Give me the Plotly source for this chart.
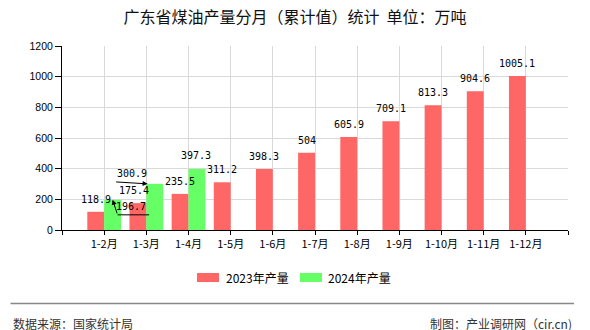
import plotly.graph_objects as go

# ---- data -------------------------------------------------------------
categories = ["1-2月", "1-3月", "1-4月", "1-5月", "1-6月", "1-7月",
              "1-8月", "1-9月", "1-10月", "1-11月", "1-12月"]
values_2023 = [118.9, 175.4, 235.5, 311.2, 398.3, 504, 605.9,
               709.1, 813.3, 904.6, 1005.1]
values_2024 = [196.7, 300.9, 397.3]
y_ticks = [0, 200, 400, 600, 800, 1000, 1200]

series_names = ["2023年产量", "2024年产量"]
colors = ["#FF6666", "#66FF66"]

# ---- page geometry (pixels) -------------------------------------------
W, H = 590, 330
L, R, T, B = 62, 22, 46, 100
PW, PH = W - L - R, H - T - B


def px_x(px):
    """page pixel x -> paper coordinate"""
    return (px - L) / PW


def px_y(py):
    """page pixel y -> paper coordinate"""
    return (H - B - py) / PH


def fmt(v):
    return f"{v:g}"


xs = list(range(len(categories)))
BW = 0.4

fig = go.Figure()
fig.add_trace(go.Bar(x=xs, y=values_2023, width=BW, offset=-BW,
                     marker=dict(color=colors[0], line=dict(width=0)),
                     name=series_names[0], showlegend=False))
fig.add_trace(go.Bar(x=xs[:len(values_2024)], y=values_2024, width=BW, offset=0,
                     marker=dict(color=colors[1], line=dict(width=0)),
                     name=series_names[1], showlegend=False))

label_font = dict(family="DejaVu Sans Mono, Liberation Mono, monospace", size=10, color="#000")
annotations = []

# value labels above the 2023 bars
for i, v in enumerate(values_2023):
    xshift = -4 if i == 1 else 0
    annotations.append(dict(x=xs[i] - BW / 2, y=v, xref="x", yref="y", text=fmt(v),
                            showarrow=False, yanchor="middle", xanchor="center",
                            yshift=12.5, xshift=xshift, font=label_font))

# 2024: first value with a bent leader line
v = values_2024[0]
annotations.append(dict(x=xs[0] + BW / 2, y=v, xref="x", yref="y", text="",
                        showarrow=True, ax=5, ay=15, arrowhead=2, arrowsize=1,
                        arrowwidth=1, arrowcolor="#000", standoff=0, startstandoff=0))
annotations.append(dict(x=xs[0] + BW / 2, y=v, xref="x", yref="y", text="",
                        showarrow=True, ax=33, ay=0, arrowhead=0, arrowwidth=1,
                        arrowcolor="#000", xshift=5, yshift=-15, standoff=0, startstandoff=0))
annotations.append(dict(x=xs[0] + BW / 2, y=v, xref="x", yref="y", text=fmt(v),
                        showarrow=False, xshift=18, yshift=-7, font=label_font))

# 2024: second value with a horizontal arrow
v = values_2024[1]
annotations.append(dict(x=xs[1] + 0.03, y=v, xref="x", yref="y", text="",
                        showarrow=True, ax=-33, ay=-2, arrowhead=2, arrowsize=1,
                        arrowwidth=1, arrowcolor="#000", standoff=0, startstandoff=0))
annotations.append(dict(x=xs[1] + 0.03, y=v, xref="x", yref="y", text=fmt(v),
                        showarrow=False, xshift=-16, yshift=10, font=label_font))

# 2024: third value, plain label
v = values_2024[2]
annotations.append(dict(x=xs[2] + BW / 2, y=v, xref="x", yref="y", text=fmt(v),
                        showarrow=False, yanchor="middle", yshift=14, xshift=-1,
                        font=label_font))

cjk = "Noto Sans CJK SC"

# legend drawn by hand
shapes = []
legend_items = [(197, 224), (300, 326)]
for (sx, tx), name, col in zip(legend_items, series_names, colors):
    shapes.append(dict(type="rect", xref="paper", yref="paper",
                       x0=px_x(sx), x1=px_x(sx + 22), y0=px_y(282), y1=px_y(273),
                       fillcolor=col, line=dict(width=0)))
    annotations.append(dict(x=px_x(tx), y=px_y(277.5), xref="paper", yref="paper",
                            text=name, showarrow=False, xanchor="left", yanchor="middle",
                            font=dict(family=cjk, size=12, color="#000")))

# footer
shapes.append(dict(type="line", xref="paper", yref="paper",
                   x0=px_x(10.5), x1=px_x(574), y0=px_y(303.5), y1=px_y(303.5),
                   line=dict(color="#888888", width=1.5)))
footer_font = dict(family=cjk, size=12, color="#333")
annotations.append(dict(x=px_x(11), y=px_y(322.5), xref="paper", yref="paper",
                        text="数据来源：国家统计局", showarrow=False, height=14,
                        xanchor="left", yanchor="middle", font=footer_font))
annotations.append(dict(x=px_x(574), y=px_y(322.5), xref="paper", yref="paper",
                        text="制图：产业调研网（cir.cn)", showarrow=False, height=14,
                        xanchor="right", yanchor="middle", font=footer_font))

fig.update_layout(
    width=W, height=H,
    margin=dict(l=L, r=R, t=T, b=B, pad=0),
    paper_bgcolor="#ffffff", plot_bgcolor="#ffffff",
    barmode="overlay",
    title=dict(text="广东省煤油产量分月（累计值）统计  单位：万吨",
               x=0.5, xanchor="center", y=1 - 17.5 / H, yanchor="middle",
               font=dict(family=cjk, size=16, color="#111")),
    xaxis=dict(range=[-1, len(categories)], tickmode="array",
               tickvals=list(range(-1, len(categories) + 1)),
               ticktext=[""] + categories + [""],
               showgrid=True, gridcolor="#d9d9d9", gridwidth=1,
               showline=True, linecolor="#000", linewidth=1,
               ticks="outside", ticklen=4, tickcolor="#000",
               tickfont=dict(family=cjk, size=11, color="#000"),
               zeroline=False, fixedrange=True),
    yaxis=dict(range=[0, 1200], tickmode="array", tickvals=y_ticks,
               showgrid=True, gridcolor="#d9d9d9", gridwidth=1,
               showline=True, linecolor="#000", linewidth=1,
               ticks="outside", ticklen=6, tickcolor="#000",
               tickfont=dict(family="Liberation Sans, Arial", size=10.5, color="#000"),
               zeroline=False, fixedrange=True),
    shapes=shapes,
    annotations=annotations,
    showlegend=False,
)

fig.write_html("out.html")
